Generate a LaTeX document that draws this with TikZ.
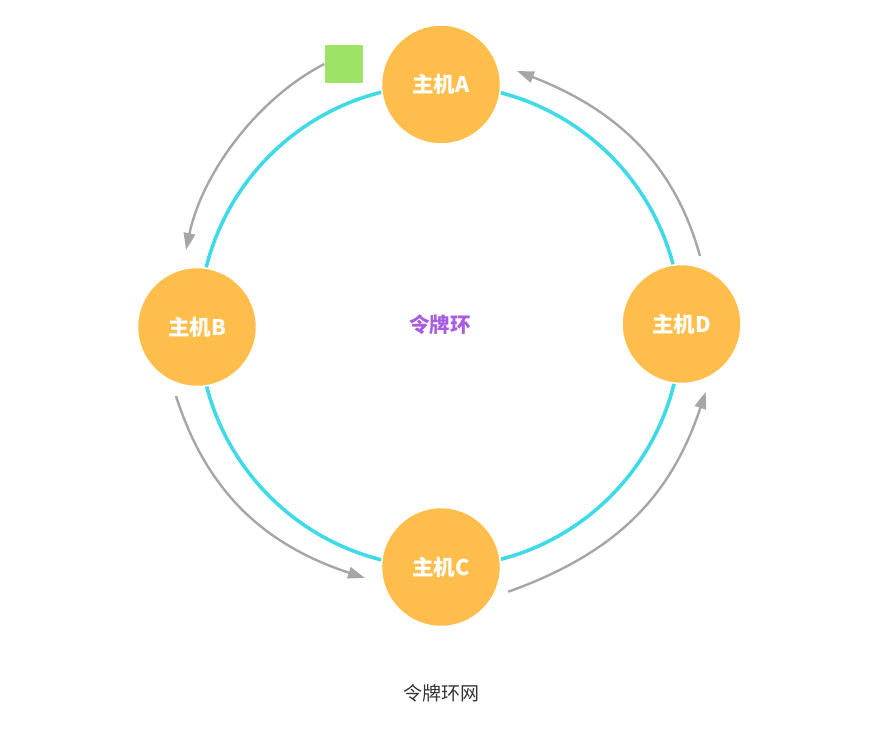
\documentclass[tikz,border=0pt]{standalone}
\usepackage{fontspec}
\newfontfamily\cjk{Noto Sans CJK SC}
\usetikzlibrary{arrows.meta}
\definecolor{ringc}{RGB}{64,217,230}
\definecolor{hostc}{RGB}{255,190,75}
\definecolor{flowc}{RGB}{166,166,166}
\definecolor{tokenc}{RGB}{157,227,102}
\definecolor{purplec}{RGB}{168,92,224}
\definecolor{titlec}{RGB}{51,51,51}
\begin{document}
\begin{tikzpicture}[x=1pt,y=-1pt,
  host/.style={circle, fill=hostc, draw=white, line width=1.5pt, minimum size=119pt, inner sep=0pt, text=white, font=\cjk\bfseries\fontsize{21.5}{25}\selectfont},
  flow/.style={draw=flowc, line width=2.4pt, -{Triangle[length=17pt,width=11.5pt]}},
  token/.style={fill=tokenc, minimum size=38pt, inner sep=0pt}]
\useasboundingbox (0,0) rectangle (882,731);
\draw[ringc, line width=3.6pt] (440,326) circle[radius=241pt];
\node[host] (A) at (441,84.5) {主机A};
\node[host] (B) at (197,327) {主机B};
\node[host] (C) at (441,567) {主机C};
\node[host] (D) at (681.5,324) {主机D};
\node[token] (tok) at (344,64) {};
\node[font=\cjk\bfseries\fontsize{20.5}{24}\selectfont, text=purplec] (ring) at (440,325) {令牌环};
\node[font=\cjk\fontsize{19}{22}\selectfont, text=titlec] (title) at (441,693) {令牌环网};
\coordinate (ab0) at (324.3,64);  \coordinate (ab1) at (186,250);
\coordinate (bc0) at (176,396);   \coordinate (bc1) at (365,578);
\coordinate (cd0) at (508.3,591.7); \coordinate (cd1) at (705.7,391.7);
\coordinate (da0) at (700,256);   \coordinate (da1) at (517,71);
\draw[flow] (ab0) .. controls (257.6,98.4) and (202.3,172.8) .. (ab1);
\draw[flow] (bc0) .. controls (205.9,489.8) and (262.6,544.4) .. (bc1);
\draw[flow] (cd0) .. controls (615.4,553.3) and (670.7,497.3) .. (cd1);
\draw[flow] (da0) .. controls (675.1,166.5) and (620.2,111) .. (da1);
\end{tikzpicture}
\end{document}
